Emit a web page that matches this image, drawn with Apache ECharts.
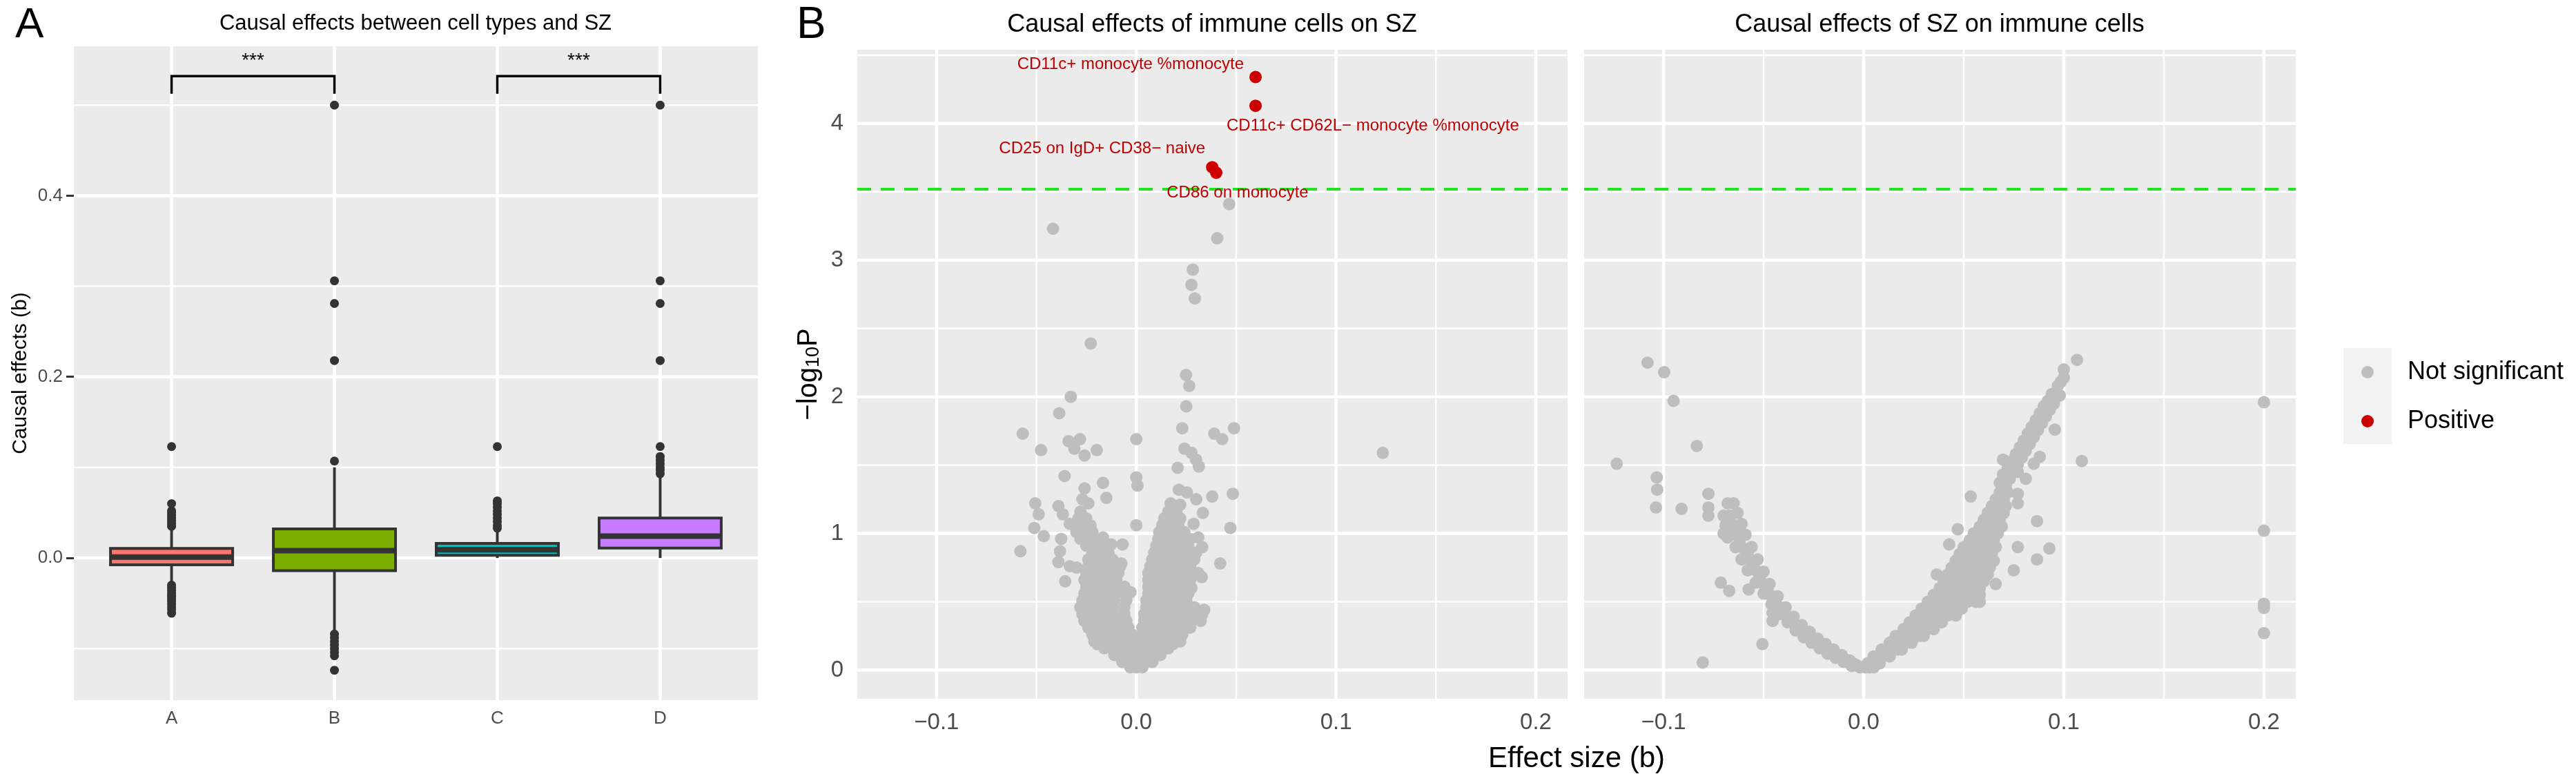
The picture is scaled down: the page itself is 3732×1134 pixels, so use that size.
<!DOCTYPE html>
<html>
<head>
<meta charset="utf-8">
<title>Causal effects between cell types and SZ</title>
<script src="https://cdn.jsdelivr.net/npm/echarts@6.0.0/dist/echarts.min.js"></script>
<style>
html, body { margin: 0; padding: 0; background: #fff; }
#main { width: 3732px; height: 1134px; }
</style>
</head>
<body>
<div id="main"></div>
<script>
var FONT = '"Liberation Sans", Arial, Helvetica, sans-serif';

// ---------- panel A : box plots ----------
var groups = ['A', 'B', 'C', 'D'];
var groupColors = ['#F8766D', '#7CAE00', '#00BFC4', '#C77CFF'];
// [lower whisker, Q1, median, Q3, upper whisker]
var boxStats = [
	[-0.027, -0.0075, 0.001, 0.0105, 0.032],
	[-0.081, -0.014, 0.008, 0.032, 0.100],
	[0.000, 0.003, 0.009, 0.016, 0.031],
	[0.000, 0.011, 0.024, 0.044, 0.090]
];
var outliers = [
	[0.035, 0.038, 0.041, 0.044, 0.047, 0.050, 0.052, 0.060, 0.123,
	 -0.030, -0.033, -0.036, -0.039, -0.042, -0.045, -0.048, -0.051, -0.054, -0.057, -0.061],
	[0.107, 0.218, 0.281, 0.306, 0.500,
	 -0.084, -0.088, -0.092, -0.096, -0.100, -0.104, -0.108, -0.124],
	[0.033, 0.036, 0.040, 0.044, 0.048, 0.052, 0.056, 0.060, 0.063, 0.123],
	[0.093, 0.097, 0.100, 0.104, 0.108, 0.112, 0.123, 0.218, 0.281, 0.306, 0.500]
];
var sigPairs = [[1, 2], [3, 4]];
var sigText = ['***', '***'];
var bracketTop = 0.532;
var bracketTip = 0.5125;
var yTicksA = [0.0, 0.2, 0.4];
var yMinorA = [-0.1, 0.1, 0.3, 0.5];
var xTicksA = [1, 2, 3, 4];

// ---------- panel B : volcano plots ----------
var threshold = 3.52;
var xTicksB = [-0.1, 0.0, 0.1, 0.2];
var xMinorB = [-0.05, 0.05, 0.15];
var yTicksB = [0, 1, 2, 3, 4];
var yMinorB = [0.5, 1.5, 2.5, 3.5, 4.5];

// immune cells -> SZ, significant (positive) hits
var positiveHits = [[0.0597, 4.34], [0.0597, 4.13], [0.038, 3.68], [0.040, 3.64]];
var positiveNames = ['CD11c+ monocyte %monocyte', 'CD11c+ CD62L\u2212 monocyte %monocyte',
	'CD25 on IgD+ CD38\u2212 naive', 'CD86 on monocyte'];

// immune cells -> SZ, not significant, scattered points
var immuneScatter = [
	[0.0465, 3.41], [-0.0417, 3.23], [0.0405, 3.16], [0.0283, 2.93], [0.0276, 2.82], [0.0293, 2.72],
	[-0.0228, 2.39], [0.0249, 2.16], [0.0265, 2.08], [-0.0328, 2.00], [0.0250, 1.93], [-0.0386, 1.88],
	[0.0230, 1.77], [0.1234, 1.59], [-0.0569, 1.73], [-0.0477, 1.61], [-0.0339, 1.675], [-0.0282, 1.69],
	[-0.0310, 1.62], [-0.0259, 1.57], [-0.0198, 1.61], [0.0000, 1.69], [0.0390, 1.73], [0.0430, 1.69],
	[0.0489, 1.77], [0.0241, 1.62], [0.0276, 1.59], [0.0299, 1.54], [0.0313, 1.49], [0.0207, 1.48],
	[-0.0359, 1.42], [0.0000, 1.41], [0.0006, 1.35], [-0.0259, 1.33], [-0.0270, 1.25], [-0.0240, 1.22],
	[-0.0167, 1.37], [-0.0150, 1.26], [0.0213, 1.32], [0.0253, 1.30], [0.0300, 1.25], [0.0380, 1.27],
	[0.0483, 1.29], [0.0333, 1.15], [-0.0506, 1.22], [-0.0489, 1.14], [-0.0390, 1.20], [-0.0368, 1.14],
	[-0.0511, 1.04], [-0.0463, 0.98], [-0.0333, 1.07], [-0.0287, 1.09], [-0.0230, 1.05], [0.0149, 1.10],
	[0.0115, 1.01], [0.0172, 1.22], [0.0000, 1.06], [0.0471, 1.04], [0.0287, 1.07], [0.0310, 0.97],
	[0.0330, 0.90], [-0.0376, 0.96], [-0.0580, 0.87], [-0.0382, 0.87], [-0.0390, 0.79], [-0.0333, 0.76],
	[-0.0299, 0.75], [-0.0356, 0.65], [-0.0276, 0.97], [-0.0230, 0.92], [-0.0167, 0.97], [-0.0126, 0.92],
	[-0.0069, 0.92], [0.0420, 0.78], [0.0328, 0.68], [0.0276, 0.60], [0.0299, 0.42], [0.0322, 0.36],
	[-0.0075, 0.78], [-0.0029, 0.57], [-0.0195, 0.19], [0.0184, 0.19], [0.0340, 0.44], [0.0310, 0.38]
];
// immune cells -> SZ, dense cloud read row by row: [y, x, x, ...]
var immuneRows = [
	[0.02, -0.003, 0.000, 0.003],
	[0.06, -0.007, -0.003, 0.001, 0.005, 0.008],
	[0.11, -0.011, -0.007, -0.003, 0.001, 0.005, 0.009, 0.012],
	[0.16, -0.016, -0.012, -0.008, -0.004, 0.000, 0.004, 0.008, 0.012, 0.016],
	[0.21, -0.021, -0.017, -0.013, -0.009, -0.005, -0.001, 0.003, 0.007, 0.011, 0.015, 0.019, 0.022],
	[0.26, -0.022, -0.018, -0.014, -0.010, -0.006, -0.002, 0.003, 0.007, 0.011, 0.015, 0.019, 0.023],
	[0.31, -0.024, -0.020, -0.016, -0.012, -0.008, -0.004, 0.003, 0.007, 0.011, 0.015, 0.019, 0.023, 0.027],
	[0.36, -0.026, -0.022, -0.018, -0.014, -0.010, -0.005, 0.004, 0.008, 0.012, 0.016, 0.020, 0.024, 0.028],
	[0.41, -0.027, -0.023, -0.019, -0.015, -0.011, -0.006, 0.004, 0.008, 0.012, 0.016, 0.020, 0.024, 0.028, 0.033],
	[0.46, -0.028, -0.024, -0.020, -0.016, -0.012, -0.006, 0.005, 0.009, 0.013, 0.017, 0.021, 0.025, 0.029],
	[0.51, -0.027, -0.023, -0.019, -0.015, -0.011, -0.005, 0.005, 0.009, 0.013, 0.017, 0.021, 0.025],
	[0.56, -0.026, -0.022, -0.018, -0.014, -0.010, -0.005, 0.006, 0.010, 0.014, 0.018, 0.022, 0.026],
	[0.61, -0.025, -0.021, -0.017, -0.013, -0.009, -0.006, 0.006, 0.010, 0.014, 0.018, 0.022, 0.026],
	[0.66, -0.026, -0.022, -0.018, -0.014, -0.010, 0.006, 0.010, 0.014, 0.018, 0.022, 0.027],
	[0.71, -0.025, -0.021, -0.017, -0.013, -0.009, 0.006, 0.010, 0.014, 0.018, 0.022, 0.026, 0.031],
	[0.76, -0.024, -0.020, -0.016, -0.012, -0.008, 0.007, 0.011, 0.015, 0.019, 0.023, 0.027],
	[0.81, -0.024, -0.020, -0.016, -0.012, 0.008, 0.012, 0.016, 0.020, 0.024, 0.029],
	[0.86, -0.022, -0.018, -0.014, 0.009, 0.013, 0.017, 0.021, 0.025, 0.030],
	[0.91, -0.025, -0.021, -0.017, 0.010, 0.014, 0.018, 0.022, 0.026],
	[0.96, -0.028, -0.024, -0.020, 0.011, 0.015, 0.019, 0.023, 0.027],
	[1.01, -0.030, -0.026, -0.022, 0.012, 0.016, 0.020, 0.024],
	[1.06, -0.031, -0.027, -0.023, 0.013, 0.017, 0.021],
	[1.11, -0.029, -0.025, 0.014, 0.018, 0.022],
	[1.16, -0.028, 0.016, 0.020],
	[1.21, 0.018, 0.022]
];

// SZ -> immune cells, not significant
var szScatter = [
	[-0.1234, 1.51], [-0.108, 2.25], [-0.0997, 2.18], [-0.095, 1.97], [-0.0834, 1.64], [-0.1034, 1.41],
	[-0.1032, 1.32], [-0.1038, 1.19], [-0.091, 1.18], [-0.0776, 1.29], [-0.0776, 1.19], [-0.0776, 1.13],
	[-0.0714, 0.64], [-0.0672, 0.58], [-0.0575, 0.59], [-0.0455, 0.42], [-0.0455, 0.36], [-0.0506, 0.19],
	[-0.0804, 0.055], [-0.070, 1.00], [-0.068, 0.97],
	[0.1066, 2.27], [0.100, 2.20], [0.100, 2.14], [0.098, 2.01], [0.0903, 1.87], [0.0955, 1.76],
	[0.087, 1.76], [0.083, 1.69], [0.109, 1.53], [0.088, 1.56], [0.085, 1.51], [0.081, 1.40],
	[0.0696, 1.54], [0.0696, 1.43], [0.077, 1.45], [0.077, 1.29], [0.077, 1.22], [0.0535, 1.27],
	[0.0866, 1.09], [0.047, 1.03], [0.0427, 0.92], [0.077, 0.90], [0.0928, 0.89], [0.0866, 0.81],
	[0.075, 0.73], [0.066, 0.63], [0.0365, 0.70], [0.058, 0.50],
	[0.200, 1.96], [0.200, 1.02], [0.200, 0.485], [0.200, 0.455], [0.200, 0.27]
];
// left arm of the V: inner edge, centre line, outer edge
var szLeftArm = [
	[-0.003, 0.03], [-0.007, 0.07], [-0.011, 0.11], [-0.015, 0.15], [-0.019, 0.19], [-0.023, 0.23],
	[-0.027, 0.28], [-0.031, 0.33], [-0.035, 0.39], [-0.039, 0.46], [-0.043, 0.54], [-0.047, 0.63],
	[-0.050, 0.72], [-0.053, 0.81], [-0.056, 0.90], [-0.059, 0.99], [-0.061, 1.07], [-0.063, 1.15],
	[-0.065, 1.22],
	[-0.002, 0.02], [-0.004, 0.04], [-0.006, 0.055], [-0.008, 0.07], [-0.010, 0.085], [-0.012, 0.10],
	[-0.014, 0.12], [-0.016, 0.14], [-0.018, 0.155], [-0.020, 0.17], [-0.022, 0.19], [-0.024, 0.21],
	[-0.026, 0.23], [-0.028, 0.25], [-0.030, 0.28], [-0.032, 0.30], [-0.034, 0.33], [-0.036, 0.36],
	[-0.038, 0.39], [-0.040, 0.42], [-0.042, 0.46], [-0.044, 0.50], [-0.046, 0.54], [-0.048, 0.58],
	[-0.050, 0.63], [-0.052, 0.68], [-0.054, 0.73], [-0.056, 0.78], [-0.058, 0.84], [-0.060, 0.89],
	[-0.062, 0.95], [-0.064, 1.01], [-0.066, 1.07], [-0.067, 1.13],
	[-0.006, 0.03], [-0.010, 0.06], [-0.014, 0.09], [-0.018, 0.12], [-0.022, 0.16], [-0.026, 0.20],
	[-0.030, 0.24], [-0.034, 0.29], [-0.038, 0.35], [-0.042, 0.41], [-0.046, 0.48], [-0.050, 0.56],
	[-0.054, 0.64], [-0.058, 0.73], [-0.061, 0.81], [-0.064, 0.90], [-0.067, 0.99], [-0.069, 1.06],
	[-0.070, 1.13], [-0.068, 1.22]
];
// right arm of the V, dense lower part read row by row: [y, x, x, ...]
var szRightRows = [
	[0.02, 0.001, 0.003, 0.005],
	[0.05, 0.002, 0.005, 0.008],
	[0.10, 0.005, 0.009, 0.013],
	[0.15, 0.009, 0.013, 0.017, 0.019],
	[0.20, 0.013, 0.017, 0.021, 0.024],
	[0.25, 0.016, 0.020, 0.024, 0.028, 0.030],
	[0.30, 0.020, 0.024, 0.028, 0.032, 0.035],
	[0.35, 0.023, 0.027, 0.031, 0.035, 0.039],
	[0.40, 0.026, 0.030, 0.034, 0.038, 0.042, 0.046],
	[0.45, 0.029, 0.033, 0.037, 0.041, 0.045, 0.049],
	[0.50, 0.032, 0.036, 0.040, 0.044, 0.048, 0.052, 0.056],
	[0.55, 0.035, 0.039, 0.043, 0.047, 0.051, 0.055, 0.058],
	[0.60, 0.038, 0.042, 0.046, 0.050, 0.054, 0.058],
	[0.65, 0.040, 0.044, 0.048, 0.052, 0.056, 0.060],
	[0.70, 0.042, 0.046, 0.050, 0.054, 0.058, 0.062],
	[0.75, 0.044, 0.048, 0.052, 0.056, 0.060, 0.063],
	[0.80, 0.046, 0.050, 0.054, 0.058, 0.062, 0.065],
	[0.85, 0.048, 0.052, 0.056, 0.060, 0.064],
	[0.90, 0.050, 0.054, 0.058, 0.062, 0.066],
	[0.95, 0.053, 0.057, 0.061, 0.065],
	[1.00, 0.055, 0.059, 0.063, 0.067],
	[1.05, 0.058, 0.062, 0.066, 0.069],
	[1.10, 0.060, 0.064, 0.068],
	[1.15, 0.062, 0.066, 0.070],
	[1.20, 0.064, 0.068, 0.071],
	[1.25, 0.066, 0.070],
	[1.30, 0.068, 0.072]
];
// right arm, narrow upper part
var szRightTop = [
	[0.068, 1.37], [0.070, 1.42], [0.072, 1.48], [0.074, 1.53], [0.076, 1.58], [0.078, 1.63],
	[0.080, 1.68], [0.082, 1.73], [0.084, 1.78], [0.086, 1.83], [0.088, 1.88], [0.090, 1.93],
	[0.092, 1.97], [0.094, 2.02], [0.097, 2.08],
	[0.071, 1.35], [0.073, 1.40], [0.075, 1.455], [0.077, 1.505], [0.079, 1.555], [0.081, 1.605],
	[0.083, 1.655], [0.085, 1.705], [0.087, 1.755], [0.089, 1.805], [0.091, 1.855], [0.093, 1.905],
	[0.095, 1.95], [0.0965, 2.00], [0.0985, 2.11]
];

// ---------- layout / style ----------
var gridA = {left: 107, top: 67, width: 991, height: 947};
var gridB1 = {left: 1242, top: 72, width: 1029, height: 940};
var gridB2 = {left: 2295, top: 72, width: 1031, height: 940};
var rangeA = {xMin: 0.4, xMax: 4.6, yMin: -0.157, yMax: 0.565};
var rangeB = {xMin: -0.1397, xMax: 0.2159, yMin: -0.21, yMax: 4.54};
var boxWidth = 0.75;
// label offsets in px from the point centre: [dx, dy, align]
var labelOffsets = [[-17, -18, 'right'], [-42, 29, 'left'], [-10, -27, 'right'], [31, 29, 'center']];
var PANEL_BG = '#EBEBEB';
var INK = '#333333';
var TICK_TEXT = '#4D4D4D';

function flattenRows(rows) {
	var out = [];
	rows.forEach(function (r) {
		for (var i = 1; i < r.length; i++) out.push([r[i], r[0]]);
	});
	return out;
}

function fmtB(v) {
	return (v < 0 ? '\u2212' : '') + Math.abs(v).toFixed(1);
}

function gridLineData(xMajor, xMinor, yMajor, yMinor, x0, y0) {
	var d = [];
	yMinor.forEach(function (v) { d.push([x0, v, 0, 0]); });
	xMinor.forEach(function (v) { d.push([v, y0, 0, 1]); });
	yMajor.forEach(function (v) { d.push([x0, v, 1, 0]); });
	xMajor.forEach(function (v) { d.push([v, y0, 1, 1]); });
	return d;
}

function renderGridLine(params, api) {
	var cs = params.coordSys;
	var p = api.coord([api.value(0), api.value(1)]);
	var w = api.value(2) === 1 ? 4.5 : 2.5;
	var shape = api.value(3) === 0
		? {x1: cs.x, y1: p[1], x2: cs.x + cs.width, y2: p[1]}
		: {x1: p[0], y1: cs.y, x2: p[0], y2: cs.y + cs.height};
	return {type: 'line', shape: shape, style: {stroke: '#FFFFFF', lineWidth: w}, silent: true};
}

function renderBox(params, api) {
	var x = api.value(0);
	var lo = api.coord([x, api.value(1)]);
	var q1 = api.coord([x, api.value(2)]);
	var med = api.coord([x, api.value(3)]);
	var q3 = api.coord([x, api.value(4)]);
	var hi = api.coord([x, api.value(5)]);
	var half = api.size([boxWidth, 0])[0] / 2;
	var line = {stroke: INK, lineWidth: 4};
	return {
		type: 'group',
		children: [
			{type: 'line', shape: {x1: lo[0], y1: lo[1], x2: q1[0], y2: q1[1]}, style: line},
			{type: 'line', shape: {x1: q3[0], y1: q3[1], x2: hi[0], y2: hi[1]}, style: line},
			{type: 'rect', shape: {x: q1[0] - half, y: q3[1], width: half * 2, height: q1[1] - q3[1]},
				style: {fill: groupColors[params.dataIndex], stroke: INK, lineWidth: 4}},
			{type: 'line', shape: {x1: med[0] - half, y1: med[1], x2: med[0] + half, y2: med[1]},
				style: {stroke: INK, lineWidth: 8}}
		]
	};
}

function renderBracket(params, api) {
	var a0 = api.coord([api.value(0), api.value(3)]);
	var a1 = api.coord([api.value(0), api.value(2)]);
	var b1 = api.coord([api.value(1), api.value(2)]);
	var b0 = api.coord([api.value(1), api.value(3)]);
	return {
		type: 'group',
		children: [
			{type: 'polyline', shape: {points: [a0, a1, b1, b0]}, style: {stroke: '#000', lineWidth: 3.5, fill: null}},
			{type: 'text', x: (a1[0] + b1[0]) / 2, y: a1[1] - 22,
				style: {text: sigText[params.dataIndex], fontSize: 28, fontFamily: FONT, fill: '#000',
					align: 'center', verticalAlign: 'middle'}}
		]
	};
}

var boxData = boxStats.map(function (s, i) { return [i + 1].concat(s); });
var outlierData = [];
outliers.forEach(function (list, i) {
	list.forEach(function (v) { outlierData.push([i + 1, v]); });
});
var bracketData = sigPairs.map(function (p) { return [p[0], p[1], bracketTop, bracketTip]; });

var immuneGrey = immuneScatter.concat(flattenRows(immuneRows));
var szGrey = szScatter.concat(szLeftArm, flattenRows(szRightRows), szRightTop);
var positiveData = positiveHits.map(function (p, i) {
	var o = labelOffsets[i];
	return {
		value: p,
		name: positiveNames[i],
		label: {show: true, position: [9 + o[0], 9 + o[1]], align: o[2], verticalAlign: 'middle'}
	};
});

function valueAxis(gridIndex, min, max, ticks, fmt, fontSize, margin, showLabels) {
	return {
		type: 'value', gridIndex: gridIndex, min: min, max: max,
		axisLine: {show: false},
		splitLine: {show: false},
		axisTick: {show: showLabels, customValues: ticks, length: 11, lineStyle: {color: INK, width: 3}},
		axisLabel: {show: showLabels, customValues: ticks, formatter: fmt, fontSize: fontSize,
			color: TICK_TEXT, fontFamily: FONT, margin: margin}
	};
}

var chart = echarts.init(document.getElementById('main'), null, {renderer: 'canvas'});

var xA = valueAxis(0, rangeA.xMin, rangeA.xMax, xTicksA, function (v) { return groups[Math.round(v) - 1]; }, 26, 14, true);
var yA = valueAxis(0, rangeA.yMin, rangeA.yMax, yTicksA, function (v) { return v.toFixed(1); }, 26, 16, true);
yA.name = 'Causal effects (b)';
yA.nameLocation = 'middle';
yA.nameGap = 62;
yA.nameTextStyle = {fontSize: 30, color: '#000', fontFamily: FONT};

var xB1 = valueAxis(1, rangeB.xMin, rangeB.xMax, xTicksB, fmtB, 33, 18, true);
var xB2 = valueAxis(2, rangeB.xMin, rangeB.xMax, xTicksB, fmtB, 33, 18, true);
var yB1 = valueAxis(1, rangeB.yMin, rangeB.yMax, yTicksB, function (v) { return String(v); }, 33, 20, true);
yB1.name = '{a|\u2212log}{b|10}{a|P}';
yB1.nameLocation = 'middle';
yB1.nameGap = 50;
yB1.nameTextStyle = {
	fontFamily: FONT, color: '#000',
	rich: {
		a: {fontSize: 40, fontFamily: FONT, color: '#000', lineHeight: 60, verticalAlign: 'bottom'},
		b: {fontSize: 27, fontFamily: FONT, color: '#000', lineHeight: 27, verticalAlign: 'bottom'}
	}
};
var yB2 = valueAxis(2, rangeB.yMin, rangeB.yMax, yTicksB, null, 33, 20, false);

var option = {
	backgroundColor: '#FFFFFF',
	animation: false,
	textStyle: {fontFamily: FONT},
	grid: [
		Object.assign({show: true, backgroundColor: PANEL_BG, borderWidth: 0}, gridA),
		Object.assign({show: true, backgroundColor: PANEL_BG, borderWidth: 0}, gridB1),
		Object.assign({show: true, backgroundColor: PANEL_BG, borderWidth: 0}, gridB2)
	],
	xAxis: [xA, xB1, xB2],
	yAxis: [yA, yB1, yB2],
	legend: {
		orient: 'vertical', left: 3421, top: 519,
		itemWidth: 18, itemHeight: 18, itemGap: 31, padding: 0,
		selectedMode: false,
		data: [{name: 'Not significant', icon: 'circle'}, {name: 'Positive', icon: 'circle'}],
		textStyle: {fontSize: 36, color: '#000', fontFamily: FONT, lineHeight: 40, padding: [0, 0, 0, 44]}
	},
	graphic: [
		{type: 'rect', shape: {x: 3395, y: 504, width: 70, height: 139}, style: {fill: '#F2F2F2'}, z: -1},
		{type: 'text', x: 22, y: 37, style: {text: 'A', fontSize: 62, fontFamily: FONT, fill: '#000', align: 'left', verticalAlign: 'middle'}},
		{type: 'text', x: 1154, y: 37, style: {text: 'B', fontSize: 64, fontFamily: FONT, fill: '#000', align: 'left', verticalAlign: 'middle'}},
		{type: 'text', x: 602, y: 34, style: {text: 'Causal effects between cell types and SZ', fontSize: 31, fontFamily: FONT, fill: '#000', align: 'center', verticalAlign: 'middle'}},
		{type: 'text', x: 1756, y: 36, style: {text: 'Causal effects of immune cells on SZ', fontSize: 36, fontFamily: FONT, fill: '#000', align: 'center', verticalAlign: 'middle'}},
		{type: 'text', x: 2810, y: 36, style: {text: 'Causal effects of SZ on immune cells', fontSize: 36, fontFamily: FONT, fill: '#000', align: 'center', verticalAlign: 'middle'}},
		{type: 'text', x: 2284, y: 1099, style: {text: 'Effect size (b)', fontSize: 42, fontFamily: FONT, fill: '#000', align: 'center', verticalAlign: 'middle'}}
	],
	series: [
		{
			type: 'custom', name: 'gridA', xAxisIndex: 0, yAxisIndex: 0, z: 1, silent: true,
			renderItem: renderGridLine,
			data: gridLineData(xTicksA, [], yTicksA, yMinorA, 2.5, 0)
		},
		{
			type: 'custom', name: 'gridB1', xAxisIndex: 1, yAxisIndex: 1, z: 1, silent: true,
			renderItem: renderGridLine,
			data: gridLineData(xTicksB, xMinorB, yTicksB, yMinorB, 0, 2)
		},
		{
			type: 'custom', name: 'gridB2', xAxisIndex: 2, yAxisIndex: 2, z: 1, silent: true,
			renderItem: renderGridLine,
			data: gridLineData(xTicksB, xMinorB, yTicksB, yMinorB, 0, 2)
		},
		{
			type: 'custom', name: 'boxes', xAxisIndex: 0, yAxisIndex: 0, z: 3,
			renderItem: renderBox,
			encode: {x: 0, y: [1, 2, 3, 4, 5]},
			data: boxData
		},
		{
			type: 'scatter', name: 'outliers', xAxisIndex: 0, yAxisIndex: 0, z: 4,
			symbolSize: 13, itemStyle: {color: INK, opacity: 1},
			data: outlierData
		},
		{
			type: 'custom', name: 'significance', xAxisIndex: 0, yAxisIndex: 0, z: 4,
			renderItem: renderBracket,
			encode: {x: [0, 1], y: [2, 3]},
			data: bracketData
		},
		{
			type: 'scatter', name: 'Not significant', xAxisIndex: 1, yAxisIndex: 1, z: 3,
			symbolSize: 18, itemStyle: {color: '#BEBEBE', opacity: 1},
			data: immuneGrey,
			markLine: {
				silent: true, symbol: 'none', label: {show: false},
				lineStyle: {color: '#1FE51F', width: 4, type: [20, 14]},
				data: [{yAxis: threshold}]
			}
		},
		{
			type: 'scatter', name: 'Positive', xAxisIndex: 1, yAxisIndex: 1, z: 5,
			symbolSize: 18, itemStyle: {color: '#CD0000', opacity: 1},
			label: {show: true, formatter: '{b}', fontSize: 24, color: '#C00000', fontFamily: FONT},
			data: positiveData
		},
		{
			type: 'scatter', name: 'Not significant', xAxisIndex: 2, yAxisIndex: 2, z: 3,
			symbolSize: 18, itemStyle: {color: '#BEBEBE', opacity: 1},
			data: szGrey,
			markLine: {
				silent: true, symbol: 'none', label: {show: false},
				lineStyle: {color: '#1FE51F', width: 4, type: [20, 14]},
				data: [{yAxis: threshold}]
			}
		}
	]
};

chart.setOption(option);
</script>
</body>
</html>
